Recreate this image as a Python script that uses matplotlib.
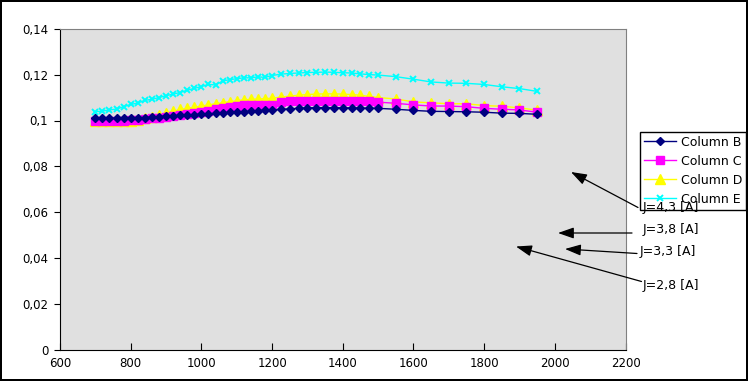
import matplotlib.pyplot as plt
from matplotlib.ticker import FuncFormatter, MultipleLocator

# current values (x) and the four measured series
x = [700, 720, 740, 760, 780, 800, 820, 840, 860, 880, 900, 920, 940, 960, 980,
     1000, 1020, 1040, 1060, 1080, 1100, 1120, 1140, 1160, 1180, 1200,
     1225, 1250, 1275, 1300, 1325, 1350, 1375, 1400, 1425, 1450, 1475, 1500,
     1550, 1600, 1650, 1700, 1750, 1800, 1850, 1900, 1950]

col_b = [0.1010, 0.1010, 0.1010, 0.1010, 0.1010, 0.1011, 0.1012, 0.1013, 0.1015,
         0.1017, 0.1019, 0.1020, 0.1022, 0.1024, 0.1026, 0.1027, 0.1029, 0.1031,
         0.1033, 0.1035, 0.1037, 0.1039, 0.1041, 0.1043, 0.1044, 0.1045,
         0.1048, 0.1051, 0.1053, 0.1055, 0.1056, 0.1056, 0.1056, 0.1055, 0.1055,
         0.1054, 0.1054, 0.1053,
         0.1049, 0.1044, 0.1040, 0.1039, 0.1038, 0.1036, 0.1032, 0.1031, 0.1027]

col_c = [0.0998, 0.0998, 0.0998, 0.0998, 0.0999, 0.1001, 0.1003, 0.1006, 0.1009,
         0.1013, 0.1016, 0.1020, 0.1023, 0.1027, 0.1031, 0.1036, 0.1041, 0.1048,
         0.1054, 0.1060, 0.1064, 0.1066, 0.1066, 0.1066, 0.1067, 0.1068,
         0.1079, 0.1084, 0.1086, 0.1086, 0.1086, 0.1086, 0.1086, 0.1086, 0.1085,
         0.1085, 0.1084, 0.1080,
         0.1075, 0.1068, 0.1063, 0.1063, 0.1060, 0.1053, 0.1049, 0.1046, 0.1036]

col_d = [0.0996, 0.0996, 0.0996, 0.0996, 0.0997, 0.0999, 0.1003, 0.1009, 0.1014,
         0.1024, 0.1032, 0.1040, 0.1048, 0.1053, 0.1058, 0.1063, 0.1068, 0.1073,
         0.1077, 0.1082, 0.1086, 0.1090, 0.1092, 0.1094, 0.1095, 0.1097,
         0.1102, 0.1106, 0.1110, 0.1113, 0.1115, 0.1116, 0.1116, 0.1115, 0.1113,
         0.1110, 0.1105, 0.1100,
         0.1094, 0.1081, 0.1077, 0.1073, 0.1073, 0.1065, 0.1062, 0.1055, 0.1045]

col_e = [0.1038, 0.1041, 0.1046, 0.1050, 0.1060, 0.1070, 0.1076, 0.1088, 0.1092,
         0.1100, 0.1108, 0.1115, 0.1122, 0.1132, 0.1140, 0.1148, 0.1157, 0.1155,
         0.1172, 0.1178, 0.1182, 0.1186, 0.1186, 0.1190, 0.1188, 0.1196,
         0.1202, 0.1205, 0.1207, 0.1209, 0.1210, 0.1211, 0.1210, 0.1208, 0.1207,
         0.1203, 0.1200, 0.1198,
         0.1191, 0.1180, 0.1168, 0.1163, 0.1162, 0.1157, 0.1147, 0.1139, 0.1127]

labels = ["Column B", "Column C", "Column D", "Column E"]
notes = ["J=4,3 [A]", "J=3,8 [A]", "J=3,3 [A]", "J=2,8 [A]"]

W, H = 748, 381


def fig_px(px, py):
    # pixel position measured from the top-left corner -> figure fraction
    return px / W, 1 - py / H


fig = plt.figure(figsize=(W / 100, H / 100), dpi=100)
fig.patch.set_edgecolor("black")
fig.patch.set_linewidth(1.5)

left, top = fig_px(60, 28.7)
right, bottom = fig_px(625.5, 350)
ax = fig.add_axes([left, bottom, right - left, top - bottom])
ax.set_facecolor("#e0e0e0")

styles = [
    dict(color="#000080", marker="D", ms=4.5, zorder=5),
    dict(color="#ff00ff", marker="s", ms=5.5, zorder=4),
    dict(color="#ffff00", marker="^", ms=6.5, zorder=3),
    dict(color="#00ffff", marker="x", ms=5, mew=1.4, zorder=2),
]
for ys, lab, st in zip([col_b, col_c, col_d, col_e], labels, styles):
    ax.plot(x, ys, lw=1, label=lab, **st)

ax.set_xlim(600, 2200)
ax.set_ylim(0, 0.14)
ax.xaxis.set_major_locator(MultipleLocator(200))
ax.yaxis.set_major_locator(MultipleLocator(0.02))
ax.yaxis.set_major_formatter(FuncFormatter(lambda v, p: f"{v:g}".replace(".", ",")))
ax.tick_params(axis="x", direction="in", length=5, pad=5, labelsize=8.5)
ax.tick_params(axis="y", direction="out", length=4.5, pad=4, labelsize=8.5)
for side in ["top", "right"]:
    ax.spines[side].set_color("#808080")
for side in ["left", "bottom"]:
    ax.spines[side].set_color("black")

leg = ax.legend(loc="upper left", bbox_to_anchor=fig_px(640, 132),
                bbox_transform=fig.transFigure, borderaxespad=0,
                fancybox=False, edgecolor="black", framealpha=1,
                fontsize=9, handlelength=2.6, labelspacing=0.48,
                borderpad=0.3, handletextpad=0.4)
leg.get_frame().set_linewidth(1)

# labels with arrows (tail near the text, head pointing into the plot)
text_pos = [(643, 207), (643, 229), (640, 251.5), (643, 285)]
arrow_tail = [(638, 207.5), (632, 233), (637, 253.5), (641.5, 281.5)]
arrow_head = [(571, 172), (558, 233), (565, 249), (516, 246.5)]

for txt, tp, tail, head in zip(notes, text_pos, arrow_tail, arrow_head):
    fig.text(*fig_px(*tp), txt, ha="left", va="center", fontsize=9, zorder=10)
    ax.annotate("", xy=fig_px(*head), xytext=fig_px(*tail),
                xycoords="figure fraction", textcoords="figure fraction",
                arrowprops=dict(arrowstyle="-|>,head_length=0.8,head_width=0.28",
                                mutation_scale=12, color="black", lw=0.9,
                                shrinkA=0, shrinkB=0),
                annotation_clip=False)

fig.savefig("out.png", dpi=100)
